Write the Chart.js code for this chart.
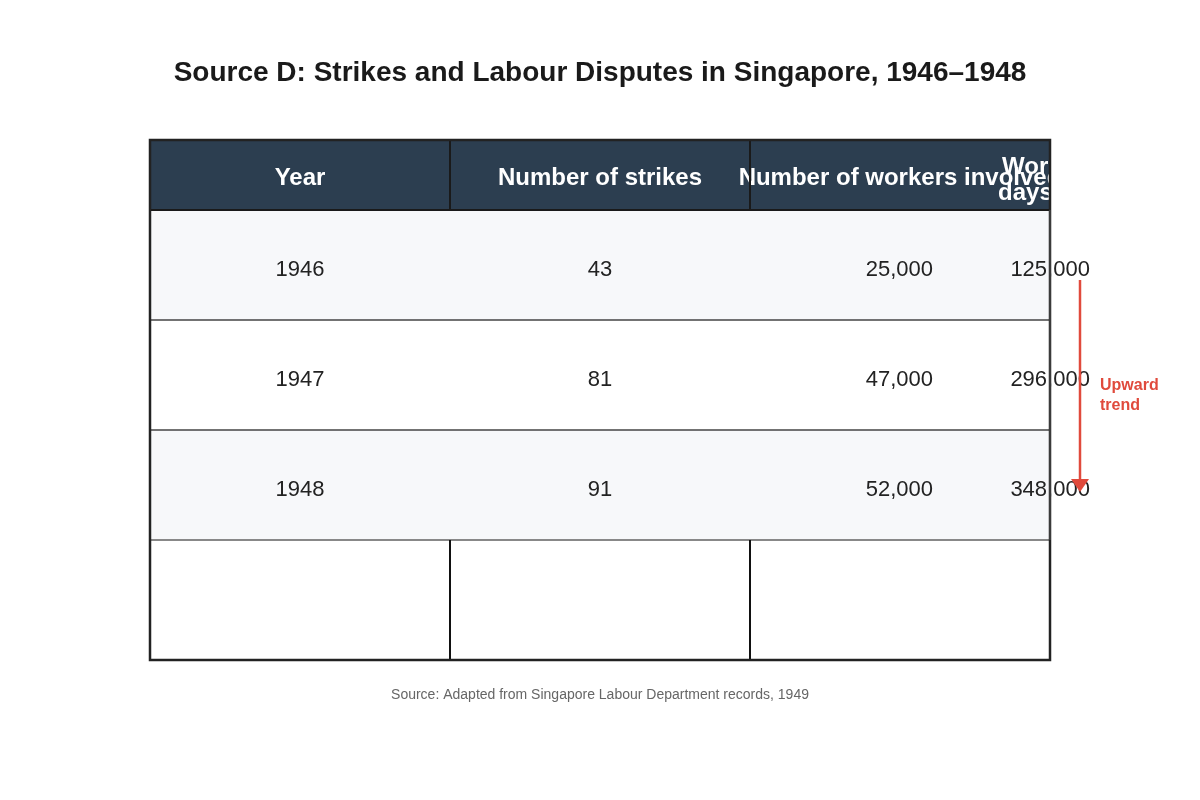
<!DOCTYPE html>
<html>
<head>
<meta charset="utf-8">
<script src="https://cdn.jsdelivr.net/npm/chart.js@4.4.0/dist/chart.umd.min.js"></script>
<style>
  html, body { margin: 0; padding: 0; background: #fff; }
  canvas { display: block; }
</style>
</head>
<body>
<canvas id="plot" width="1200" height="800"></canvas>
<script>
// table contents
const headers = ['Year', 'Number of strikes', 'Number of workers involved', 'Working days lost'];
const years = ['1946', '1947', '1948'];
const strikes = [43, 81, 91];
const workers = [25000, 47000, 52000];
const daysLost = [125000, 296000, 348000];

const titleText = 'Source D: Strikes and Labour Disputes in Singapore, 1946\u20131948';
const sourceText = 'Source: Adapted from Singapore Labour Department records, 1949';
const trendLabel = ['Upward', 'trend'];

const FONT = '"Liberation Sans", Arial, sans-serif';
const HEAD_H = 7, ROW_H = 11, LAST_H = 12;
const fmt = v => v.toLocaleString('en-US');

const tablePlugin = {
    id: 'tablePlugin',
    afterDraw(chart) {
        const ctx = chart.ctx;
        const xs = chart.scales.x, ys = chart.scales.y;
        const X = v => xs.getPixelForValue(v);
        const Y = v => ys.getPixelForValue(v);
        const area = chart.chartArea;
        const rowTop = i => HEAD_H + ROW_H * i;
        const bottom = HEAD_H + ROW_H * years.length + LAST_H;

        ctx.save();
        // title + source
        ctx.fillStyle = '#1a1a1a';
        ctx.font = 'bold 28px ' + FONT;
        ctx.textAlign = 'center';
        ctx.textBaseline = 'middle';
        ctx.fillText(titleText, chart.width / 2, 73);
        ctx.fillStyle = '#666';
        ctx.font = '14px ' + FONT;
        ctx.fillText(sourceText, chart.width / 2, Y(bottom) + 35);

        // header
        ctx.fillStyle = '#2c3e50';
        ctx.fillRect(X(0), Y(0), X(3) - X(0), Y(HEAD_H) - Y(0));

        // body rows
        years.forEach((yr, i) => {
            ctx.fillStyle = i % 2 === 0 ? '#f7f8fa' : '#ffffff';
            ctx.fillRect(X(0), Y(rowTop(i)), X(3) - X(0), Y(rowTop(i + 1)) - Y(rowTop(i)));
        });

        // header text (clipped to table)
        ctx.save();
        ctx.beginPath();
        ctx.rect(area.left, area.top, area.right - area.left, area.bottom - area.top);
        ctx.clip();
        ctx.fillStyle = '#ffffff';
        ctx.font = 'bold 24px ' + FONT;
        ctx.textAlign = 'center';
        const hy = Y(HEAD_H / 2) + 3;
        ctx.fillText(headers[0], X(0.5), hy);
        ctx.fillText(headers[1], X(1.5), hy);
        ctx.fillText(headers[2], X(2.5), hy);
        const last = headers[3].split(' ');
        ctx.textAlign = 'left';
        ctx.fillText(last[0], X(2.84), hy - 11);
        ctx.fillText(last.slice(1).join(' '), X(2.827), hy + 15);
        ctx.restore();

        // cell values
        ctx.fillStyle = '#222';
        ctx.font = '22px ' + FONT;
        years.forEach((yr, i) => {
            const cy = Y(rowTop(i) + ROW_H / 2) + 5;
            ctx.textAlign = 'center';
            ctx.fillText(yr, X(0.5), cy);
            ctx.fillText(String(strikes[i]), X(1.5), cy);
            ctx.textAlign = 'right';
            ctx.fillText(fmt(workers[i]), X(2.61), cy);
            ctx.fillText(fmt(daysLost[i]), X(3.133), cy);
        });

        // grid lines
        ctx.lineCap = 'butt';
        ctx.strokeStyle = '#1a1a1a';
        ctx.lineWidth = 2;
        [1, 2].forEach(c => {
            ctx.beginPath();
            ctx.moveTo(X(c), Y(0));
            ctx.lineTo(X(c), Y(HEAD_H));
            ctx.stroke();
        });
        ctx.beginPath();
        ctx.moveTo(X(0), Y(HEAD_H));
        ctx.lineTo(X(3), Y(HEAD_H));
        ctx.stroke();

        ctx.strokeStyle = '#444';
        ctx.lineWidth = 1.5;
        [1, 2].forEach(i => {
            ctx.beginPath();
            ctx.moveTo(X(0), Y(rowTop(i)));
            ctx.lineTo(X(3), Y(rowTop(i)));
            ctx.stroke();
        });
        ctx.strokeStyle = '#888';
        ctx.lineWidth = 2;
        ctx.beginPath();
        ctx.moveTo(X(0), Y(rowTop(3)));
        ctx.lineTo(X(3), Y(rowTop(3)));
        ctx.stroke();

        // empty last row dividers
        ctx.strokeStyle = '#111';
        ctx.lineWidth = 2;
        [0, 1, 2, 3].forEach(c => {
            ctx.beginPath();
            ctx.moveTo(X(c), Y(rowTop(3)));
            ctx.lineTo(X(c), Y(bottom));
            ctx.stroke();
        });

        // outer border
        ctx.strokeStyle = '#222';
        ctx.lineWidth = 2.5;
        ctx.strokeRect(X(0), Y(0), X(3) - X(0), Y(bottom) - Y(0));
        ctx.strokeStyle = '#444';
        ctx.lineWidth = 1.5;
        ctx.beginPath();
        ctx.moveTo(X(3), Y(HEAD_H));
        ctx.lineTo(X(3), Y(rowTop(3)));
        ctx.stroke();

        // trend arrow
        ctx.strokeStyle = '#e04a3c';
        ctx.fillStyle = '#e04a3c';
        ctx.lineWidth = 2.5;
        ctx.beginPath();
        ctx.moveTo(X(3.1), Y(14));
        ctx.lineTo(X(3.1), Y(34.2));
        ctx.stroke();
        ctx.beginPath();
        ctx.moveTo(X(3.1) - 9, Y(33.9));
        ctx.lineTo(X(3.1) + 9, Y(33.9));
        ctx.lineTo(X(3.1), Y(35.2));
        ctx.closePath();
        ctx.fill();
        ctx.font = 'bold 16px ' + FONT;
        ctx.textAlign = 'left';
        ctx.fillText(trendLabel[0], X(3.1667), Y(24.6));
        ctx.fillText(trendLabel[1], X(3.1667), Y(26.6));
        ctx.restore();
    }
};

const config = {
    type: 'scatter',
    data: { datasets: [{ data: [], pointRadius: 0 }] },
    options: {
        responsive: false,
        animation: false,
        events: [],
        layout: { padding: { left: 150, right: 150, top: 140, bottom: 140 } },
        plugins: { legend: { display: false }, tooltip: { enabled: false } },
        scales: {
            x: { type: 'linear', min: 0, max: 3, display: false },
            y: { type: 'linear', min: 0, max: HEAD_H + ROW_H * years.length + LAST_H, reverse: true, display: false }
        }
    },
    plugins: [tablePlugin]
};

let ctx = document.getElementById('plot').getContext('2d');
let chart = new Chart(ctx, config);
</script>
</body>
</html>
